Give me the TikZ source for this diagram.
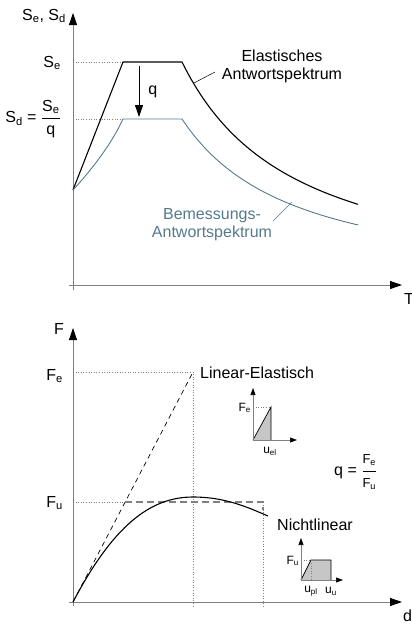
\documentclass[tikz,border=0pt]{standalone}
\usepackage{fontspec}
\setmainfont{Liberation Sans}
\usepackage{amsmath}
\usetikzlibrary{arrows.meta}
\definecolor{bemblau}{RGB}{84,122,140}

\begin{document}
\begin{tikzpicture}[x=1pt, y=-1pt, font=\fontsize{16}{18}\selectfont,
    txt/.style={inner sep=0pt},
    klein/.style={inner sep=0pt, font=\fontsize{12}{14}\selectfont},
    achse/.style={draw=gray, line width=0.8pt, -{Triangle[length=12pt,width=8pt,black]}},
    kleinachse/.style={draw=gray, line width=0.6pt, -{Triangle[length=7pt,width=5pt,black]}},
    hilfslinie/.style={gray, dotted, line width=0.6pt},
    kurve/.style={line width=1.1pt}]
    \useasboundingbox (0,0) rectangle (412,625);

    % Achsen oben
    \draw[achse] (69,285) -- (402,285);
    \draw[achse] (73,290) -- (73,13);
    \node[txt] (sesd) at (44,16) {S\textsubscript{e}, S\textsubscript{d}};
    \node[txt, anchor=base west] (t) at (404,304) {T};

    % Plateauwerte
    \node[txt, anchor=base east] (se) at (61,67) {S\textsubscript{e}};
    \node[txt, anchor=east] (sd) at (61,119) {S\textsubscript{d} = $\displaystyle\frac{\mbox{S\textsubscript{e}}}{\mbox{q}}$};
    \draw[hilfslinie] (73,62) -- (123,62);
    \draw[hilfslinie] (73,119) -- (123,119);

    % Spektren
    \draw[kurve] (73,190) -- (123,62) -- (182,62)
        -- plot[domain=182:358, samples=60] (\x, {285-223*(132/(\x-50))^1.2});
    \draw[line width=0.9pt, bemblau] (73,190) .. controls (95,166) and (113,141) .. (123,119) -- (182,119)
        -- plot[domain=182:358, samples=60] (\x, {285-166*(132/(\x-50))^1.2});

    % Abminderung mit q
    \coordinate (qa) at (139,66);
    \coordinate (qb) at (139,117);
    \draw[line width=0.8pt, -{Triangle[length=12pt,width=8pt]}] (qa) -- (qb) node[midway, right=9pt, inner sep=0pt] (q) {q};

    % Beschriftungen
    \node[txt, align=center] (elast) at (282,66) {Elastisches\\Antwortspektrum};
    \coordinate (elpkt) at (194,83);
    \coordinate (elfrei) at (215,72);
    \draw[line width=0.5pt] (elpkt) -- (elfrei);
    \node[txt, align=center, text=bemblau] (bemess) at (212,225) {Bemessungs-\\Antwortspektrum};
    \coordinate (bempkt) at (292,202);
    \coordinate (bemfrei) at (273,221);
    \draw[line width=0.5pt, bemblau] (bemfrei) -- (bempkt);

    % Achsen unten
    \draw[achse] (69,602) -- (402,602);
    \draw[achse] (73,606) -- (73,328);
    \node[txt, anchor=base east] (f) at (64,334) {F};
    \node[txt, anchor=base west] (d) at (403,621) {d};
    \node[txt, anchor=base east] (fe) at (63,380) {F\textsubscript{e}};
    \node[txt, anchor=base east] (fu) at (63,507) {F\textsubscript{u}};

    % Kraft-Verformung
    \coordinate (o) at (73,602);
    \coordinate (pe) at (193,372);
    \coordinate (pmax) at (193,497);
    \coordinate (pend) at (268,516);
    \coordinate (py) at (125,502);
    \coordinate (pu) at (263,502);
    \draw[hilfslinie] (73,372) -- (pe) -- (193,607);
    \draw[hilfslinie] (73,502) -- (py);
    \draw[hilfslinie] (pu) -- (263,607);
    \draw[line width=0.7pt, dash pattern=on 5pt off 4pt] (o) -- (pe);
    \draw[gray, line width=1.3pt, dash pattern=on 7pt off 4pt] (py) -- (pu) -- ++(0,8);
    \draw[kurve] (o) .. controls (113,526) and (150,497) .. (pmax)
        .. controls (225,497) and (247,507) .. (pend);
    \node[txt, anchor=base west] (linel) at (200,378) {Linear-Elastisch};
    \node[txt, anchor=base west] (nichtl) at (277,530) {Nichtlinear};

    % Formel
    \node[txt, anchor=west] (qform) at (334,472) {q = $\displaystyle\frac{\mbox{\fontsize{13}{15}\selectfont F\textsubscript{e}}}{\mbox{\fontsize{13}{15}\selectfont F\textsubscript{u}}}$};

    % Kleines Diagramm linear
    \coordinate (o1) at (253,440);
    \fill[gray!45] (o1) -- (271,407) -- (271,440) -- cycle;
    \draw[line width=0.7pt] (o1) -- (271,407) -- (271,440);
    \draw[kleinachse] (o1) -- (297,440);
    \draw[kleinachse] (o1) -- (253,388);
    \draw[hilfslinie] (253,407) -- (271,407);
    \node[klein, anchor=east] (fe1) at (251,408) {F\textsubscript{e}};
    \node[klein] (uel) at (270,451) {u\textsubscript{el}};

    % Kleines Diagramm nichtlinear
    \coordinate (o2) at (301,580);
    \filldraw[fill=gray!45, line width=0.7pt] (o2) -- (311,560) -- (331,560) -- (331,580);
    \draw[kleinachse] (o2) -- (343,580);
    \draw[kleinachse] (o2) -- (301,538);
    \draw[hilfslinie] (301,560) -- (311,560) -- (311,580);
    \node[klein, anchor=east] (fu2) at (299,561) {F\textsubscript{u}};
    \node[klein] (upl) at (311,591) {u\textsubscript{pl}};
    \node[klein] (uu) at (331,591) {u\textsubscript{u}};
\end{tikzpicture}
\end{document}
